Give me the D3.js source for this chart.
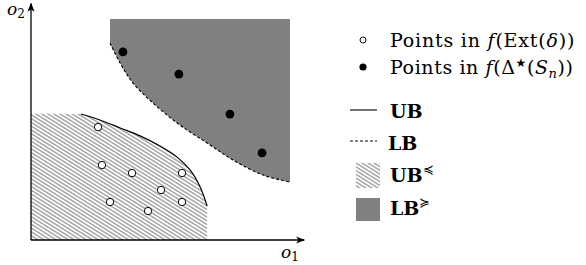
<!DOCTYPE html>
<html>
<head>
<meta charset="utf-8">
<script src="https://cdn.jsdelivr.net/npm/d3@7"></script>
<style>
  body { margin: 0; background: #fff; }
  text { font-family: "DejaVu Serif", serif; fill: #000; }
</style>
</head>
<body>
<svg id="chart" width="586" height="265"></svg>
<script>
// points in f(Ext(delta)) -- open circles
var extPoints = [[2.59, 5.11], [2.74, 3.39], [3.90, 3.03], [5.83, 3.03],
                 [5.02, 2.26], [3.05, 1.72], [4.52, 1.31], [5.83, 1.72]];
// points in f(Delta*(S_n)) -- filled dots
var deltaPoints = [[3.55, 8.51], [5.71, 7.51], [7.68, 5.70], [8.92, 3.94]];
// upper bound curve
var ubCurve = [[1.93, 5.70], [2.66, 5.43], [3.44, 5.07], [4.21, 4.71], [4.98, 4.25],
               [5.64, 3.75], [6.14, 3.17], [6.53, 2.40], [6.80, 1.54]];
// lower bound curve
var lbCurve = [[3.05, 8.91], [3.44, 8.01], [3.94, 7.10], [4.71, 6.20], [5.75, 5.20],
               [6.80, 4.39], [7.80, 3.62], [8.96, 2.94], [10, 2.62]];
var ubTop = 5.72, ubRight = 6.80;
var lbTop = 10, lbRight = 10;
var axisLabels = ["o", "1", "o", "2"];

var svg = d3.select('#chart');
var x = d3.scaleLinear().domain([0, 10]).range([31, 290]);
var y = d3.scaleLinear().domain([0, 10]).range([240, 19]);

var defs = svg.append('defs');
var hatch = defs.append('pattern')
    .attr('id', 'hatch')
    .attr('patternUnits', 'userSpaceOnUse')
    .attr('width', 3.2).attr('height', 3.2)
    .attr('patternTransform', 'rotate(32)');
hatch.append('rect').attr('width', 3.2).attr('height', 3.2).attr('fill', '#fff');
hatch.append('line')
    .attr('x1', 0).attr('y1', 0.8).attr('x2', 3.2).attr('y2', 0.8)
    .attr('stroke', '#6a6a6a').attr('stroke-width', 0.9);

defs.append('marker')
    .attr('id', 'arrow')
    .attr('viewBox', '0 0 10 10')
    .attr('refX', 9).attr('refY', 5)
    .attr('markerWidth', 9).attr('markerHeight', 9)
    .attr('markerUnits', 'userSpaceOnUse')
    .attr('orient', 'auto')
    .append('path')
    .attr('d', 'M0,1 L10,5 L0,9 L2.5,5 Z')
    .attr('fill', '#000');

var curve = d3.line()
    .x(function (d) { return x(d[0]); })
    .y(function (d) { return y(d[1]); })
    .curve(d3.curveCatmullRom);

// UB dominated region (hatched)
svg.append('path')
    .attr('d', curve(ubCurve) + 'L' + x(ubRight) + ',' + y(0) + 'L' + x(0) + ',' + y(0) +
        'L' + x(0) + ',' + y(ubTop) + 'Z')
    .attr('fill', 'url(#hatch)');

// LB dominating region (gray)
svg.append('path')
    .attr('d', curve(lbCurve) + 'L' + x(lbRight) + ',' + y(lbTop) + 'L' + x(lbCurve[0][0]) + ',' + y(lbTop) + 'Z')
    .attr('fill', '#808080');

svg.append('path')
    .attr('d', curve(ubCurve))
    .attr('fill', 'none').attr('stroke', '#000').attr('stroke-width', 1.2);

svg.append('path')
    .attr('d', curve(lbCurve))
    .attr('fill', 'none').attr('stroke', '#000').attr('stroke-width', 1.1)
    .attr('stroke-dasharray', '3,2');

// axes
svg.append('line')
    .attr('x1', x(0)).attr('y1', y(0)).attr('x2', x(10.55)).attr('y2', y(0))
    .attr('stroke', '#000').attr('stroke-width', 1.3).attr('marker-end', 'url(#arrow)');
svg.append('line')
    .attr('x1', x(0)).attr('y1', y(0)).attr('x2', x(0)).attr('y2', y(10.7))
    .attr('stroke', '#000').attr('stroke-width', 1.3).attr('marker-end', 'url(#arrow)');

svg.selectAll('circle.ext').data(extPoints).enter().append('circle')
    .attr('class', 'ext')
    .attr('cx', function (d) { return x(d[0]); })
    .attr('cy', function (d) { return y(d[1]); })
    .attr('r', 3.7)
    .attr('fill', '#fff').attr('stroke', '#000').attr('stroke-width', 1);

svg.selectAll('circle.delta').data(deltaPoints).enter().append('circle')
    .attr('class', 'delta')
    .attr('cx', function (d) { return x(d[0]); })
    .attr('cy', function (d) { return y(d[1]); })
    .attr('r', 4.4)
    .attr('fill', '#000');

// axis labels
var o1 = svg.append('text').attr('x', 281).attr('y', 258).style('font-size', '17px');
o1.append('tspan').style('font-style', 'italic').text(axisLabels[0]);
o1.append('tspan').attr('dy', 3).style('font-size', '12px').text(axisLabels[1]);
var o2 = svg.append('text').attr('x', 7).attr('y', 15).style('font-size', '17px');
o2.append('tspan').style('font-style', 'italic').text(axisLabels[2]);
o2.append('tspan').attr('dy', 3).style('font-size', '12px').text(axisLabels[3]);

// legend
var lg = svg.append('g').attr('class', 'legend');
var fs = '19px';
lg.append('circle').attr('cx', 363).attr('cy', 40).attr('r', 3)
    .attr('fill', '#fff').attr('stroke', '#000').attr('stroke-width', 1);
var t1 = lg.append('text').attr('x', 390).attr('y', 47).style('font-size', fs)
    .style('letter-spacing', '0.8px');
t1.append('tspan').text('Points in ');
t1.append('tspan').style('font-style', 'italic').text('f');
t1.append('tspan').text('(Ext(');
t1.append('tspan').style('font-style', 'italic').text('δ');
t1.append('tspan').text('))');

lg.append('circle').attr('cx', 363).attr('cy', 67).attr('r', 3.6).attr('fill', '#000');
var t2 = lg.append('text').attr('x', 390).attr('y', 74).style('font-size', fs)
    .style('letter-spacing', '0.6px');
t2.append('tspan').text('Points in ');
t2.append('tspan').style('font-style', 'italic').text('f');
t2.append('tspan').text('(Δ');
t2.append('tspan').attr('dy', -7).style('font-size', '12px')
    .style('font-family', '"DejaVu Sans", sans-serif').text('★');
t2.append('tspan').attr('dy', 7).text('(');
t2.append('tspan').style('font-style', 'italic').text('S');
t2.append('tspan').attr('dy', 4).style('font-size', '13px').style('font-style', 'italic').text('n');
t2.append('tspan').attr('dy', -4).text('))');

lg.append('line').attr('x1', 350).attr('x2', 377).attr('y1', 110).attr('y2', 110)
    .attr('stroke', '#000').attr('stroke-width', 1.1);
lg.append('text').attr('x', 390).attr('y', 118).style('font-size', fs)
    .style('font-weight', 'bold').text('UB');

lg.append('line').attr('x1', 350).attr('x2', 377).attr('y1', 141).attr('y2', 141)
    .attr('stroke', '#000').attr('stroke-width', 1.1).attr('stroke-dasharray', '3,2');
lg.append('text').attr('x', 388).attr('y', 150).style('font-size', fs)
    .style('font-weight', 'bold').text('LB');

lg.append('rect').attr('x', 356).attr('y', 163).attr('width', 24).attr('height', 25)
    .attr('fill', 'url(#hatch)');
var t5 = lg.append('text').attr('x', 390).attr('y', 182).style('font-size', fs);
t5.append('tspan').style('font-weight', 'bold').text('UB');
t5.append('tspan').attr('dy', -8).style('font-size', '13px').text('≼');

lg.append('rect').attr('x', 356).attr('y', 198).attr('width', 24).attr('height', 23)
    .attr('fill', '#808080');
var t6 = lg.append('text').attr('x', 390).attr('y', 215).style('font-size', fs);
t6.append('tspan').style('font-weight', 'bold').text('LB');
t6.append('tspan').attr('dy', -8).style('font-size', '13px').text('≽');
</script>
</body>
</html>
